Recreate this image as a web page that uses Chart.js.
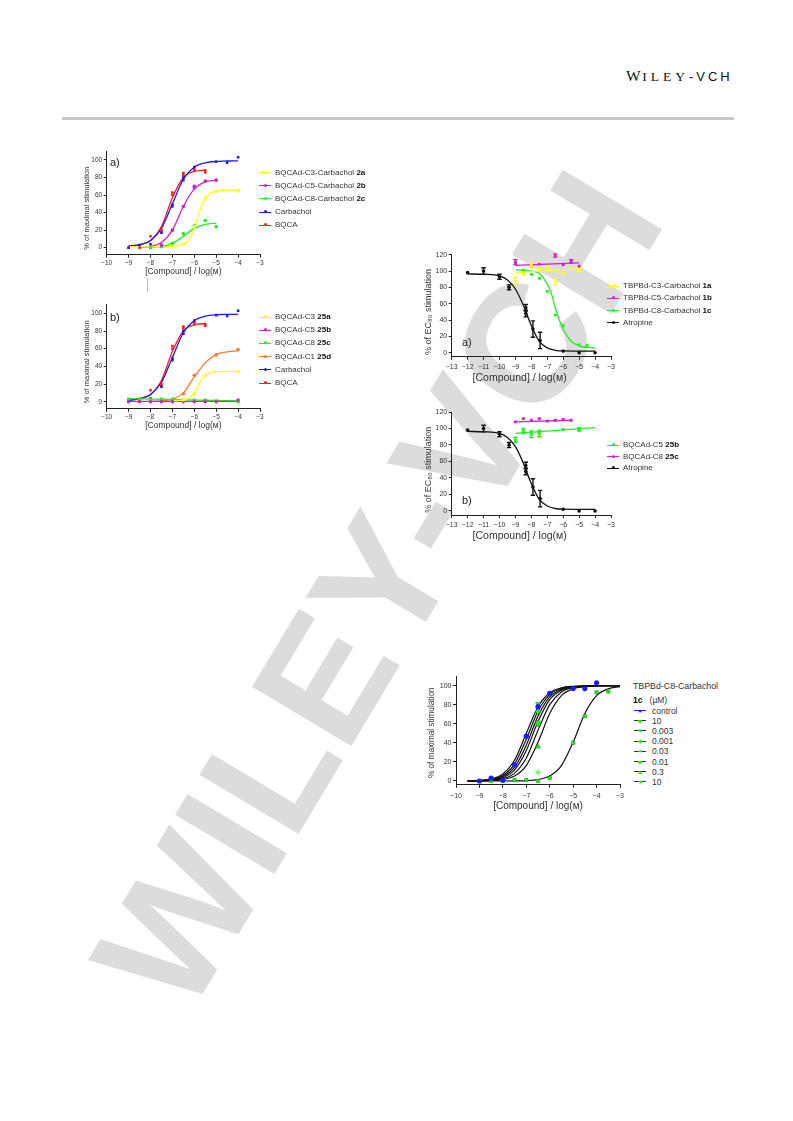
<!DOCTYPE html>
<html>
<head>
<meta charset="utf-8">
<title>Muscarinic receptor figures</title>
<script src="https://cdn.jsdelivr.net/npm/chart.js@4.4.1/dist/chart.umd.min.js"></script>
<style>
  body { margin: 0; background: #fff; }
  #page { position: relative; width: 793px; height: 1121px; overflow: hidden; background: #fff;
          font-family: "Liberation Sans", Arial, sans-serif; color: #333; }
  #page canvas { position: absolute; z-index: 1; }
  .watermark { position: absolute; left: 378px; top: 590px; z-index: 0; white-space: nowrap; line-height: 1;
               transform: translate(-50%, -50%) rotate(-59deg); font: bold 168px "Liberation Sans", Arial, sans-serif;
               color: #dcdcdc; }
  .brand { position: absolute; left: 626px; top: 67px; white-space: nowrap; color: #111; }
  .brand .w { font: 15.5px "Liberation Serif", "Times New Roman", serif; letter-spacing: 1.5px; }
  .brand .sc { font: 13.5px "Liberation Serif", "Times New Roman", serif; letter-spacing: 4px; }
  .brand .vch { font: 13px "Liberation Sans", Arial, sans-serif; letter-spacing: 3px; }
  .rule { position: absolute; left: 62px; top: 117px; width: 672px; height: 3px; background: #c9c9c9; }
  .tag { position: absolute; z-index: 2; font-size: 11px; color: #222; line-height: 1; }
  .leg { position: absolute; z-index: 2; white-space: nowrap; font-size: 8px; line-height: 10px; color: #333; }
  .leg b { color: #111; }
  .leg .mk { position: absolute; top: 4.5px; left: -16px; width: 12px; height: 1px; }
  .leg .mk i { position: absolute; left: 4.5px; top: -1.5px; width: 3px; height: 3px; border-radius: 50%; }
  .leg .gl { position: absolute; left: -18px; top: 0; width: 12px; text-align: center; font-size: 6px; }
</style>
</head>
<body>
<div id="page">
  <div class="watermark">WILEY-VCH</div>
  <div class="brand"><span class="w">W</span><span class="sc">ILEY</span><span class="vch">-VCH</span></div>
  <div class="rule"></div>
  <div style="position:absolute;left:147px;top:278px;width:1px;height:14px;background:#bbb"></div>

  <canvas id="chartA" width="192" height="135" style="left:78px;top:145px"></canvas>
  <canvas id="chartB" width="192" height="135" style="left:78px;top:298px"></canvas>
  <canvas id="chartC" width="200" height="140" style="left:420px;top:245px"></canvas>
  <canvas id="chartD" width="200" height="140" style="left:420px;top:403px"></canvas>
  <canvas id="chartE" width="210" height="145" style="left:420px;top:668px"></canvas>

  <div class="tag" style="left:110px;top:157px">a)</div>
  <div class="tag" style="left:110px;top:312px">b)</div>
  <div class="tag" style="left:462px;top:337px">a)</div>
  <div class="tag" style="left:462px;top:495px">b)</div>
</div>

<script>
// ---- panel a / b (left column): agonist curves, log M vs % of maximal stimulation
const logTicks10 = [-10, -9, -8, -7, -6, -5, -4, -3];
const stimTicks = [0, 20, 40, 60, 80, 100];

const carbX = [-9, -8.5, -8, -7.5, -7, -7, -6.5, -6.5, -6, -5, -4.5, -4];
const carbY = [0, 3, 4, 17, 47, 49, 77, 80, 92, 98, 97, 103];
const carbFitX = [-9, -8.5, -8, -7.5, -7, -6.5, -6, -5.5, -5, -4.5, -4];
const carbFitY = [1.6, 3.1, 8.2, 22, 50, 78, 92, 96.8, 98.4, 98.8, 99];

const bqcaX = [-9, -8.5, -8, -7.5, -7.5, -7, -7, -6.5, -6.5, -6, -6, -5.5, -5.5];
const bqcaY = [0, 0, 13, 18, 20, 60, 63, 83, 85, 88, 90, 86, 88];
const bqcaFitX = [-9, -8.5, -8, -7.5, -7, -6.5, -6, -5.5];
const bqcaFitY = [2.3, 3.5, 8, 24, 57, 80, 87, 88.5];

const c3X = [-7, -6.5, -6, -5.5, -5, -4];
const c3Y = [1, 4, 24, 56, 64, 65];
const c3FitX = [-9, -8, -7, -6.5, -6.25, -6, -5.75, -5.5, -5.25, -5, -4.5, -4];
const c3FitY = [1, 1, 1.5, 4, 9, 22, 42, 56, 62.5, 64.5, 65.5, 65.5];

const c5X = [-7.5, -7, -6.5, -6, -6, -5.5, -5];
const c5Y = [3, 20, 47, 68, 70, 76, 77];
const c5FitX = [-8.5, -8, -7.5, -7, -6.5, -6, -5.5, -5];
const c5FitY = [0.5, 1.5, 6, 20, 47, 67, 75, 77];

const c8X = [-8, -7.5, -7, -6.5, -6, -5.5, -5];
const c8Y = [0, 1, 5, 16, 25, 31, 24];
const c8FitX = [-8, -7.5, -7, -6.5, -6, -5.5, -5];
const c8FitY = [0.5, 1.5, 5, 13, 22, 26.5, 28];

// panel b extra series
const c3bX = [-6.5, -6, -5.5, -4];
const c3bY = [2, 9, 30, 34];
const c3bFitX = [-7, -6.5, -6.25, -6, -5.75, -5.5, -5.25, -5, -4];
const c3bFitY = [1, 2, 4, 10, 22, 30, 33, 34, 34.5];

const c5bX = [-9, -8.5, -8, -7.5, -7, -6.5, -6, -5.5, -5, -4];
const c5bY = [0, 0, 0, 0, 0, 0, 0, 0, 0, 2];
const c5bFitX = [-9, -4];
const c5bFitY = [0.5, 0.5];

const c8bX = [-9, -8.5, -8, -7.5, -7, -6.5, -6, -5.5, -5, -4];
const c8bY = [3, 3, 3, 3, 3, 2, 2, 2, 1, 0];
const c8bFitX = [-9, -4];
const c8bFitY = [3.5, 1];

const c1bX = [-6.5, -6, -5, -4];
const c1bY = [9, 30, 53, 59];
const c1bFitX = [-8, -7.5, -7, -6.5, -6, -5.5, -5, -4.5, -4];
const c1bFitY = [0.5, 1, 3, 10, 28, 44, 53.5, 56.5, 57.5];

// ---- panel c / d (right column): antagonist curves, % of EC80 stimulation
const logTicks13 = [-13, -12, -11, -10, -9, -8, -7, -6, -5, -4, -3];
const ec80Ticks = [0, 20, 40, 60, 80, 100, 120];

const atrX = [-12, -11, -10, -9.4, -8.35, -8.35, -7.9, -7.45, -6, -5, -4];
const atrY = [98, 100, 93, 80, 55, 48, 29, 15, 2, 0, 0];
const atrErr = [0, 4, 3, 3, 4, 4, 10, 10, 0, 0, 0];
const atrFitX = [-12, -11, -10, -9.5, -9, -8.5, -8, -7.5, -7, -6.5, -6, -5, -4];
const atrFitY = [96.5, 96, 94, 89, 78, 58, 33, 14, 6, 3, 2.2, 2, 2];

const t3X = [-9, -8.5, -8, -7.5, -7, -6.5, -6, -5];
const t3Y = [88, 97, 107, 103, 103, 87, 97, 101];
const t3Err = [4, 2, 3, 3, 2, 4, 0, 2];
const t3FitX = [-9, -5];
const t3FitY = [98, 103];

const t5X = [-9, -8, -7.5, -6.5, -6, -5.5, -5];
const t5Y = [111, 105, 108, 119, 108, 112, 106];
const t5Err = [3, 0, 0, 2, 0, 2, 0];
const t5FitX = [-9, -5];
const t5FitY = [107, 110];

const t8X = [-9, -8.5, -8, -7.5, -7, -6.5, -6, -5, -4.5];
const t8Y = [110, 101, 96, 91, 75, 46, 33, 10, 9];
const t8FitX = [-9, -8.5, -8, -7.5, -7, -6.75, -6.5, -6.25, -6, -5.5, -5, -4.5, -4];
const t8FitY = [101.5, 101, 100, 97, 84, 73, 55, 40, 29, 14, 8.5, 6.5, 6];

const d5X = [-9, -8.5, -8, -7.5, -6, -5];
const d5Y = [86, 97, 93, 94, 99, 99];
const d5Err = [3, 3, 4, 4, 0, 2];
const d5FitX = [-9, -4];
const d5FitY = [94, 101];

const d8X = [-9, -8.5, -8, -7.5, -7, -6.5, -6, -5.5];
const d8Y = [108, 112, 110, 112, 109, 110, 111, 110];
const d8FitX = [-9, -5.5];
const d8FitY = [108, 110];

// ---- panel e (bottom right): carbachol shift with TBPBd-C8-Carbachol 1c
const eFitX = [-9.5, -9, -8.5, -8, -7.5, -7, -6.5, -6, -5.5, -5, -4.5, -4, -3.5, -3];
const eCtrlFitY = [0.2, 0.6, 2.2, 7.4, 22, 50, 78, 92.6, 97.8, 99.4, 99.8, 100, 100, 100];
const e0003FitY = [0.1, 0.5, 1.7, 5.8, 18, 43.7, 73.4, 90.7, 97.2, 99.2, 99.8, 100, 100, 100];
const e0001FitY = [0.1, 0.4, 1.3, 4.6, 14.5, 37.6, 68.1, 88.4, 96.4, 99, 99.7, 100, 100, 100];
const e003FitY = [0.1, 0.3, 1, 3.6, 11.6, 31.9, 62.4, 85.5, 95.4, 98.7, 99.6, 100, 100, 100];
const e001FitY = [0.1, 0.2, 0.7, 2.5, 8.3, 24.2, 53.2, 80.1, 93.5, 98.1, 99.4, 99.8, 100, 100];
const e03FitY = [0, 0.1, 0.4, 1.5, 5.2, 16.2, 40.6, 70.8, 89.6, 96.8, 99.1, 99.7, 100, 100];
const e10FitY = [0, 0, 0, 0, 0.1, 0.4, 1.5, 5.2, 16.2, 40.6, 70.8, 89.6, 96.8, 99.1];

const eCtrlX = [-9, -8.5, -8, -7.5, -7, -6.5, -6, -5, -4.5, -4];
const eCtrlY = [0, 3, 1, 17, 47, 78, 92, 97, 97, 103];
const e10X = [-8.5, -8, -7.5, -7, -6.5, -6, -5, -4.5, -4, -3.5];
const e10Y = [0, 0, 1, 1, 0, 3, 40, 68, 93, 94];
const eSingleX = [-6.5];
const e0003Y = [81];
const e0001Y = [73];
const e003Y = [61];
const e001Y = [59];
const e03Y = [36];
const e10sY = [9];

const YELLOW = '#ffff1a', MAGENTA = '#cc22cc', GREEN = '#22ee22', BLUE = '#1a1aff',
      RED = '#ff1a1a', ORANGE = '#ff7a2a', BLACK = '#111', AXIS = '#222', TEXT = '#333';
const NB = '\u00A0';

document.addEventListener('DOMContentLoaded', function () {
    Chart.defaults.font.family = '"Liberation Sans", Arial, sans-serif';
    Chart.defaults.color = TEXT;

    const pts = (xs, ys) => xs.map((x, i) => ({ x: x, y: ys[i] }));
    const minus = v => (v < 0 ? '\u2212' + Math.abs(v) : String(v));

    // fitted line (monotone through read points)
    function curve(xs, ys, color, width) {
        return { data: pts(xs, ys), showLine: true, borderColor: color, borderWidth: width || 1.3,
                 pointRadius: 0, cubicInterpolationMode: 'monotone', order: 2 };
    }
    // data markers
    function marks(xs, ys, color, style, r, errs, edge) {
        return { data: pts(xs, ys), showLine: false, backgroundColor: color, borderColor: edge || color,
                 borderWidth: edge ? 0.6 : 0, pointStyle: style || 'circle', pointRadius: r || 1.8,
                 errors: errs, order: 1 };
    }

    // small plugin: vertical error bars with caps, placed with the chart scales
    const errorBars = {
        id: 'errorBars',
        afterDatasetsDraw(chart) {
            const ctx = chart.ctx, xs = chart.scales.x, ys = chart.scales.y;
            chart.data.datasets.forEach(ds => {
                if (!ds.errors) return;
                ctx.save();
                ctx.strokeStyle = ds.borderColor;
                ctx.lineWidth = 1.4;
                ds.data.forEach((p, j) => {
                    const e = ds.errors[j];
                    if (!e) return;
                    const px = xs.getPixelForValue(p.x);
                    const top = ys.getPixelForValue(p.y + e);
                    const bot = ys.getPixelForValue(p.y - e);
                    ctx.beginPath();
                    ctx.moveTo(px, top); ctx.lineTo(px, bot);
                    ctx.moveTo(px - 2.2, top); ctx.lineTo(px + 2.2, top);
                    ctx.moveTo(px - 2.2, bot); ctx.lineTo(px + 2.2, bot);
                    ctx.stroke();
                });
                ctx.restore();
            });
        }
    };

    function axis(o, which) {
        const isX = which === 'x';
        return {
            type: 'linear',
            min: isX ? o.xMin : o.yMin,
            max: isX ? o.xMax : o.yMax,
            afterBuildTicks: s => { s.ticks = (isX ? o.xTicks : o.yTicks).map(v => ({ value: v })); },
            afterFit: s => { if (isX) s.height = o.xH; else s.width = o.yW; },
            grid: { drawOnChartArea: false, tickLength: 3, color: AXIS, lineWidth: 1 },
            border: { color: AXIS, width: 1 },
            ticks: { font: { size: o.tickSize }, color: TEXT, padding: isX ? o.xTickPad : 1.5,
                     autoSkip: false, maxRotation: 0, callback: minus },
            title: {
                display: true, color: TEXT,
                // trailing no-break spaces nudge the centred titles like the original
                text: isX ? '[Compound] / log(\u1D0D)' + NB.repeat(o.xShift || 0) : o.yTitle + NB.repeat(o.yShift || 0),
                font: { size: isX ? o.xTitleSize : o.yTitleSize },
                padding: isX ? { top: 0, bottom: o.xTitlePad } : { top: o.yTitlePad, bottom: 0 }
            }
        };
    }

    function plot(id, o, datasets) {
        new Chart(document.getElementById(id), {
            type: 'scatter',
            data: { datasets: datasets },
            options: {
                responsive: false, animation: false, devicePixelRatio: 1,
                layout: { padding: { left: 0, top: o.padT, right: o.padR, bottom: 0 } },
                plugins: { legend: { display: false }, tooltip: { enabled: false } },
                scales: { x: axis(o, 'x'), y: axis(o, 'y') }
            },
            plugins: [errorBars]
        });
    }

    const leftBox = { xMin: -10, xMax: -3, xTicks: logTicks10, yMin: -8, yMax: 110, yTicks: stimTicks,
                      yW: 28.7, padR: 10, tickSize: 6.5, xTickPad: 2, xTitleSize: 8.5, yTitleSize: 7.5,
                      yTitlePad: 4.5, yShift: 5, yTitle: '% of maximal stimulation' };

    plot('chartA', Object.assign({}, leftBox, { padT: 6.2, xH: 25.3, xTitlePad: 2.9 }), [
        curve(c3FitX, c3FitY, YELLOW), curve(c5FitX, c5FitY, MAGENTA), curve(c8FitX, c8FitY, GREEN),
        curve(carbFitX, carbFitY, BLUE), curve(bqcaFitX, bqcaFitY, RED),
        marks(c3X, c3Y, YELLOW), marks(c5X, c5Y, MAGENTA), marks(c8X, c8Y, GREEN),
        marks(carbX, carbY, BLUE, 'rect'), marks(bqcaX, bqcaY, RED, 'rect')
    ]);

    plot('chartB', Object.assign({}, leftBox, { padT: 6.5, xH: 24.2, xTitlePad: 1.9 }), [
        curve(c3bFitX, c3bFitY, YELLOW), curve(c5bFitX, c5bFitY, MAGENTA), curve(c8bFitX, c8bFitY, GREEN),
        curve(c1bFitX, c1bFitY, ORANGE), curve(carbFitX, carbFitY, BLUE), curve(bqcaFitX, bqcaFitY, RED),
        marks(c3bX, c3bY, YELLOW), marks(c5bX, c5bY, MAGENTA), marks(c8bX, c8bY, GREEN),
        marks(c1bX, c1bY, ORANGE), marks(carbX, carbY, BLUE, 'rect'), marks(bqcaX, bqcaY, RED, 'rect')
    ]);

    const rightBox = { xMin: -13, xMax: -3, xTicks: logTicks13, yMin: -5, yMax: 120, yTicks: ec80Ticks,
                       yW: 31.7, padR: 9, tickSize: 7, xTickPad: 3, xTitleSize: 10.5, yTitleSize: 9,
                       yTitlePad: 2.9, xShift: 8, yShift: 5, yTitle: '% of EC\u2088\u2080 stimulation' };

    plot('chartC', Object.assign({}, rightBox, { padT: 9.7, xH: 28.2, xTitlePad: 0.4 }), [
        curve(t3FitX, t3FitY, YELLOW), curve(t5FitX, t5FitY, MAGENTA), curve(t8FitX, t8FitY, GREEN),
        curve(atrFitX, atrFitY, BLACK),
        marks(t3X, t3Y, YELLOW, 'rect', 2, t3Err), marks(t5X, t5Y, MAGENTA, 'rect', 2, t5Err),
        marks(t8X, t8Y, GREEN, 'rect', 2), marks(atrX, atrY, BLACK, 'circle', 1.8, atrErr)
    ]);

    plot('chartD', Object.assign({}, rightBox, { padT: 9, xH: 27.9, xTitlePad: 0.6 }), [
        curve(d5FitX, d5FitY, GREEN), curve(d8FitX, d8FitY, MAGENTA), curve(atrFitX, atrFitY, BLACK),
        marks(d5X, d5Y, GREEN, 'rect', 2, d5Err), marks(d8X, d8Y, MAGENTA, 'rect', 2),
        marks(atrX, atrY, BLACK, 'circle', 1.8, atrErr)
    ]);

    const eEdge = '#2a8a2a';
    plot('chartE', { xMin: -10, xMax: -3, xTicks: logTicks10, yMin: -4, yMax: 110, yTicks: stimTicks,
                     yW: 36, padR: 10, padT: 8.2, xH: 28.2, tickSize: 7, xTickPad: 4.5,
                     xTitleSize: 10, xTitlePad: 1, yTitleSize: 8.2, yTitlePad: 6.8, yShift: 2,
                     yTitle: '% of maximal stimulation' }, [
        curve(eFitX, eCtrlFitY, BLACK, 1.2), curve(eFitX, e0003FitY, BLACK, 1.2),
        curve(eFitX, e0001FitY, BLACK, 1.2), curve(eFitX, e003FitY, BLACK, 1.2),
        curve(eFitX, e001FitY, BLACK, 1.2), curve(eFitX, e03FitY, BLACK, 1.2),
        curve(eFitX, e10FitY, BLACK, 1.2),
        marks(eCtrlX, eCtrlY, BLUE, 'circle', 2.6),
        marks(e10X, e10Y, GREEN, 'rect', 2.4, null, eEdge),
        Object.assign(marks(eSingleX, e0003Y, GREEN, 'triangle', 2.8, null, eEdge), { rotation: 180 }),
        marks(eSingleX, e0001Y, GREEN, 'rectRot', 2.8, null, eEdge),
        marks(eSingleX, e003Y, GREEN, 'circle', 2.5, null, eEdge),
        marks(eSingleX, e001Y, GREEN, 'rect', 2.4, null, eEdge),
        marks(eSingleX, e03Y, GREEN, 'triangle', 2.8, null, eEdge),
        marks(eSingleX, e10sY, GREEN, 'star', 3.5, null, GREEN)
    ]);

    // ---- legends (html text, bold compound numbers)
    const page = document.getElementById('page');
    function legend(x, ys, items) {
        items.forEach((it, i) => {
            const row = document.createElement('div');
            row.className = 'leg';
            row.style.left = x + 'px';
            row.style.top = (ys[i] - 5) + 'px';
            row.innerHTML = '<span class="mk" style="background:' + it[2] + '"><i style="background:' + it[2] + '"></i></span>' +
                it[0] + (it[1] ? ' <b>' + it[1] + '</b>' : '');
            page.appendChild(row);
        });
    }

    legend(275, [172.5, 185.7, 198.9, 212.1, 225.3], [
        ['BQCAd-C3-Carbachol', '2a', YELLOW], ['BQCAd-C5-Carbachol', '2b', MAGENTA],
        ['BQCAd-C8-Carbachol', '2c', GREEN], ['Carbachol', '', BLUE], ['BQCA', '', RED]
    ]);
    legend(275, [317, 330.2, 343.4, 356.6, 369.8, 383], [
        ['BQCAd-C3', '25a', YELLOW], ['BQCAd-C5', '25b', MAGENTA], ['BQCAd-C8', '25c', GREEN],
        ['BQCAd-C1', '25d', ORANGE], ['Carbachol', '', BLUE], ['BQCA', '', RED]
    ]);
    legend(623, [286, 298.3, 310.5, 322.5], [
        ['TBPBd-C3-Carbachol', '1a', YELLOW], ['TBPBd-C5-Carbachol', '1b', MAGENTA],
        ['TBPBd-C8-Carbachol', '1c', GREEN], ['Atropine', '', BLACK]
    ]);
    legend(623, [445, 456.7, 468.3], [
        ['BQCAd-C5', '25b', GREEN], ['BQCAd-C8', '25c', MAGENTA], ['Atropine', '', BLACK]
    ]);

    // panel e legend with marker glyphs
    const eRows = [['control', '\u25CF', BLUE], ['10', '\u25A0', GREEN], ['0.003', '\u25BC', GREEN],
                   ['0.001', '\u25C6', GREEN], ['0.03', '\u25CF', GREEN], ['0.01', '\u25A0', GREEN],
                   ['0.3', '\u25B2', GREEN], ['10', '\u2605', GREEN]];
    const eYs = [710.5, 720.7, 730.9, 741.1, 751.3, 761.5, 771.7, 781.9];
    const head = document.createElement('div');
    head.className = 'leg';
    head.style.cssText = 'left:633px;top:681px;font-size:8.8px';
    head.textContent = 'TBPBd-C8-Carbachol';
    page.appendChild(head);
    const sub = document.createElement('div');
    sub.className = 'leg';
    sub.style.cssText = 'left:633px;top:695px;font-size:8.5px';
    sub.innerHTML = '<b>1c</b>&nbsp;&nbsp;&nbsp;(\u00B5M)';
    page.appendChild(sub);
    eRows.forEach((r, i) => {
        const row = document.createElement('div');
        row.className = 'leg';
        row.style.left = '652px';
        row.style.top = (eYs[i] - 5) + 'px';
        row.style.fontSize = '8.5px';
        const lineCol = r[2] === BLUE ? BLUE : '#333';
        row.innerHTML = '<span class="gl" style="color:' + r[2] + '"><span style="position:absolute;left:0;right:0;top:4.5px;height:1px;background:' +
            lineCol + '"></span><span style="position:relative">' + r[1] + '</span></span>' + r[0];
        page.appendChild(row);
    });
});
</script>
</body>
</html>
